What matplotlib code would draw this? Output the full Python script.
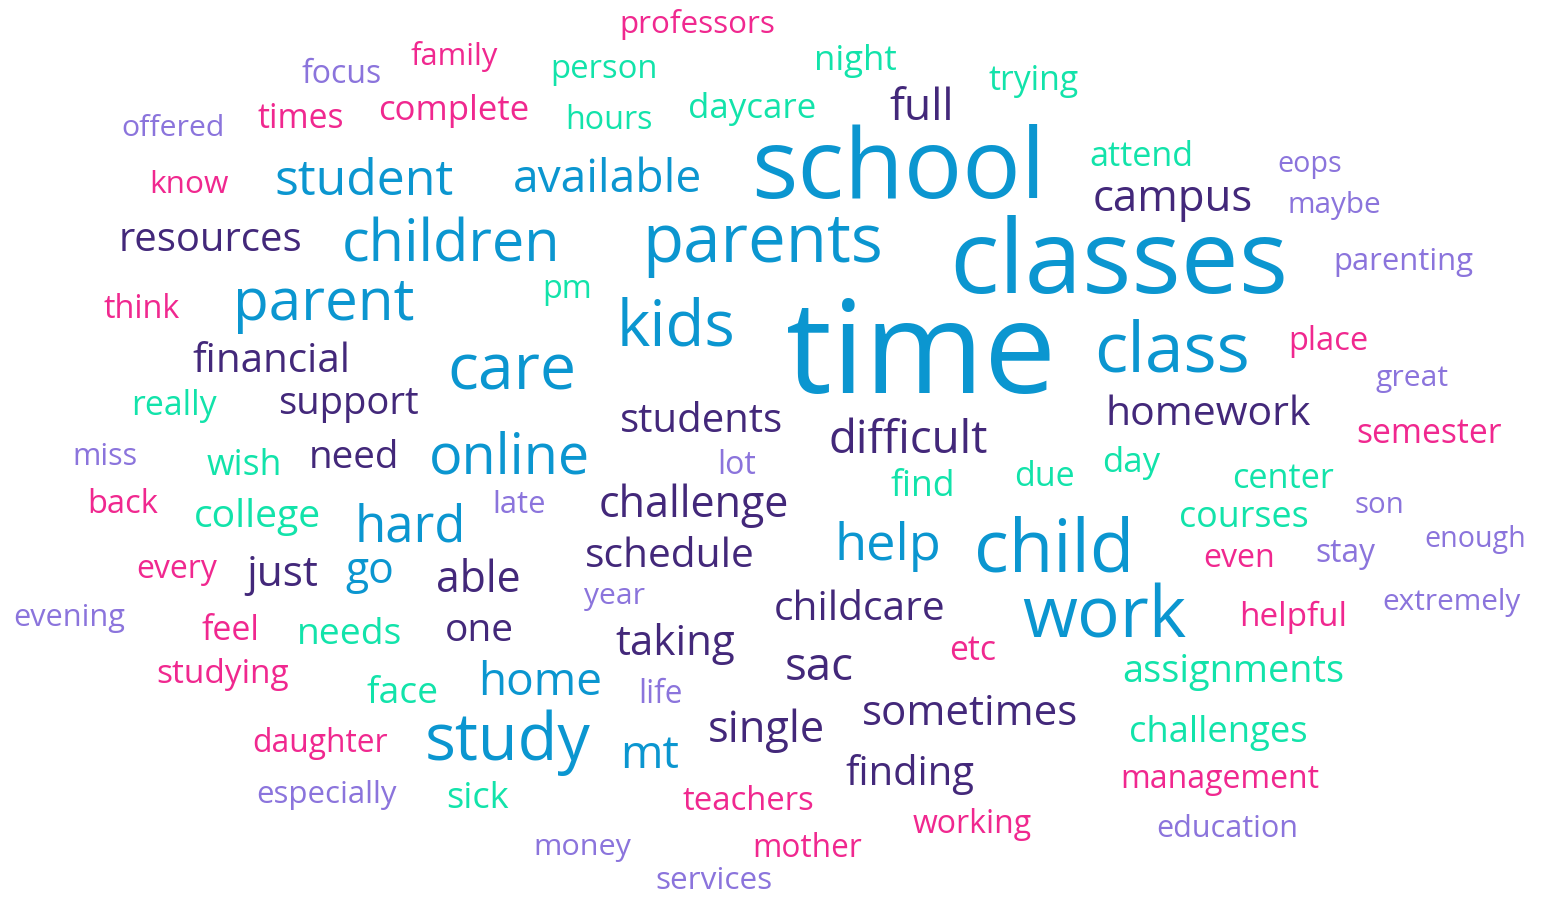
import matplotlib.pyplot as plt

# word cloud: words, colour group and where each word sits (left, right, baseline in px)
words = ["professors", "family", "focus", "person", "night", "trying", "offered", "times",
         "complete", "hours", "daycare", "full", "school", "attend", "eops", "know", "student",
         "available", "campus", "maybe", "resources", "children", "parents", "classes",
         "parenting", "think", "parent", "pm", "kids", "time", "class", "place", "financial",
         "care", "great", "really", "support", "students", "homework", "difficult", "semester",
         "miss", "wish", "need", "online", "lot", "find", "due", "day", "center", "back",
         "college", "hard", "late", "challenge", "help", "child", "courses", "son", "enough",
         "every", "just", "go", "able", "schedule", "even", "stay", "year", "evening", "feel",
         "needs", "one", "childcare", "work", "helpful", "extremely", "taking", "etc",
         "studying", "sac", "face", "home", "life", "assignments", "sometimes", "single",
         "daughter", "study", "mt", "challenges", "finding", "management", "especially", "sick",
         "teachers", "working", "education", "money", "mother", "services"]

groups = ["pink", "pink", "lav", "green", "green", "green", "lav", "pink",
          "pink", "green", "green", "purple", "blue", "green", "lav", "pink", "blue",
          "blue", "purple", "lav", "purple", "blue", "blue", "blue",
          "lav", "pink", "blue", "green", "blue", "blue", "blue", "pink", "purple",
          "blue", "lav", "green", "purple", "purple", "purple", "purple", "pink",
          "lav", "green", "purple", "blue", "lav", "green", "green", "green", "green", "pink",
          "green", "blue", "lav", "purple", "blue", "blue", "green", "lav", "lav",
          "pink", "purple", "blue", "purple", "purple", "pink", "lav", "lav", "lav", "pink",
          "green", "purple", "purple", "blue", "pink", "lav", "purple", "pink",
          "pink", "purple", "green", "blue", "lav", "green", "purple", "purple",
          "pink", "blue", "blue", "green", "purple", "pink", "lav", "green",
          "pink", "pink", "lav", "lav", "pink", "lav"]

x_left = [613, 407, 298, 545, 810, 985, 117, 254, 372, 562, 683, 887, 738, 1085, 1275, 146, 267,
          505, 1086, 1283, 111, 333, 632, 935, 1327, 100, 225, 540, 612, 775, 1088, 1285, 186,
          442, 1373, 127, 272, 613, 1097, 822, 1350, 69, 203, 305, 422, 716, 888, 1011, 1100,
          1227, 84, 188, 350, 490, 590, 830, 967, 1173, 1352, 1420, 133, 243, 343, 432, 578,
          1200, 1313, 582, 9, 199, 293, 442, 767, 1015, 1235, 1377, 610, 947, 151, 782, 364,
          473, 636, 1113, 853, 703, 247, 418, 618, 1121, 840, 1112, 250, 444, 677, 908, 1150,
          529, 748, 650]
x_right = [782, 502, 385, 662, 900, 1083, 229, 348, 536, 657, 822, 957, 1058, 1198, 1345, 232,
           462, 710, 1260, 1385, 310, 570, 893, 1303, 1479, 183, 422, 594, 741, 1068, 1257, 1372,
           357, 582, 1452, 220, 425, 790, 1320, 995, 1508, 140, 285, 403, 597, 758, 958, 1077,
           1163, 1338, 161, 326, 471, 548, 797, 946, 1141, 1314, 1406, 1530, 221, 321, 396, 524,
           762, 1278, 1378, 648, 130, 262, 407, 517, 953, 1193, 1352, 1527, 740, 998, 295, 857,
           442, 608, 684, 1354, 1088, 830, 394, 598, 682, 1315, 980, 1328, 403, 512, 820, 1037,
           1304, 635, 867, 777]
baseline = [33, 65, 83, 78, 70, 90, 136, 128, 120, 129, 118, 120, 198, 166, 172, 193, 195,
            192, 211, 213, 251, 262, 262, 293, 270, 318, 320, 298, 345, 393, 372, 350, 372,
            390, 386, 415, 414, 432, 425, 453, 443, 465, 475, 468, 473, 474, 496, 486, 472,
            488, 513, 527, 541, 513, 517, 560, 572, 527, 513, 547, 578, 586, 583, 592, 567,
            567, 562, 604, 626, 640, 644, 641, 620, 637, 626, 610, 655, 660, 683, 680, 703,
            695, 703, 682, 725, 742, 752, 760, 768, 742, 785, 788, 803, 808, 810, 833, 837,
            855, 857, 889]

palette = {"blue": "#0b96d0", "purple": "#43287a", "green": "#12e3aa",
           "pink": "#f0288f", "lav": "#8b74dc"}

plt.rcParams['font.family'] = ['Open Sans', 'DejaVu Sans']

fig = plt.figure(figsize=(15.46, 8.97), dpi=100)
ax = fig.add_axes([0, 0, 1, 1])
ax.set_xlim(0, 1546)
ax.set_ylim(897, 0)
ax.axis('off')

renderer = fig.canvas.get_renderer()
for w, g, l, r, b in zip(words, groups, x_left, x_right, baseline):
    t = ax.text((l + r) / 2, b, w, fontsize=40, color=palette[g], ha='center', va='baseline')
    bb = t.get_window_extent(renderer)
    # Open Sans is taller than the reference face for the same width, so shrink a bit
    t.set_fontsize(40 * (r - l) / bb.width * 0.92)

fig.savefig("out.png", dpi=100, facecolor="white")
